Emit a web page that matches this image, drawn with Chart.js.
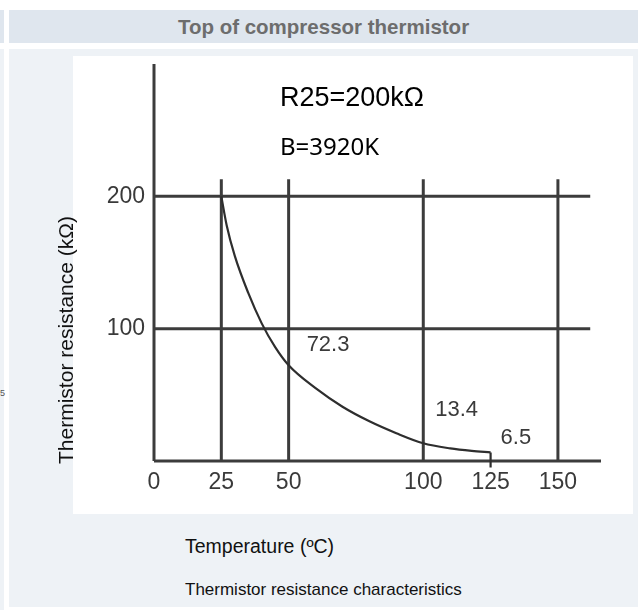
<!DOCTYPE html>
<html>
<head>
<meta charset="utf-8">
<script src="https://cdn.jsdelivr.net/npm/chart.js@4"></script>
<style>
  html, body { margin: 0; padding: 0; background: #fff; }
  body { width: 638px; height: 610px; position: relative; overflow: hidden; font-family: "Liberation Sans", Arial, sans-serif; }
  .stub-head { position: absolute; left: 0; top: 10px; width: 4px; height: 33px; background: #dfe6ee; }
  .head { position: absolute; left: 9px; top: 10px; width: 629px; height: 33px; background: #dfe6ee;
          color: #6d6d6d; font-weight: bold; font-size: 20.5px; text-align: center; line-height: 33px; }
  .stub-body { position: absolute; left: 0; top: 49px; width: 4px; height: 561px; background: #eef2f6; }
  .cell { position: absolute; left: 9px; top: 49px; width: 629px; height: 558px; background: #eef2f6; }
  .box { position: absolute; left: 73px; top: 56px; width: 560px; height: 458px; background: #fff; }
  .ytitle { position: absolute; left: -84px; top: 327px; width: 300px; height: 26px; line-height: 26px;
            text-align: center; transform: rotate(-90deg); font-size: 21px; color: #111; }
  .xtitle { position: absolute; left: 185px; top: 535px; font-size: 19.5px; color: #111; }
  .caption { position: absolute; left: 185px; top: 580px; font-size: 17px; color: #111; }
  .cut { position: absolute; left: 0; top: 388px; font-size: 9px; color: #555; }
  #chart { position: absolute; left: 73px; top: 56px; }
</style>
</head>
<body>
<div class="stub-head"></div>
<div class="head">Top of compressor thermistor</div>
<div class="stub-body"></div>
<div class="cell"></div>
<div class="cut">5</div>
<div class="box"></div>
<canvas id="chart" width="560" height="458"></canvas>
<div class="ytitle">Thermistor resistance (kΩ)</div>
<div class="xtitle">Temperature (ºC)</div>
<div class="caption">Thermistor resistance characteristics</div>

<script>
// curve: temperature (C) vs resistance (kOhm)
const temps = [25, 27, 30, 35, 40, 45, 50, 60, 70, 80, 90, 100, 110, 118, 125];
const resistance = [200, 178, 155, 127, 104, 86, 72.3, 55, 41, 30, 21, 13.4, 9.5, 7.6, 6.5];

// short drop at the end of the curve
const dropTemps = [125, 125];
const dropRes = [6.5, -5];

// axis ticks
const xTicks = [0, 25, 50, 100, 125, 150];
const yTicks = [100, 200];
const gridTemps = [25, 50, 100, 150];

// values written next to the curve
const noteTemps = [50, 100, 125];
const noteValues = [72.3, 13.4, 6.5];

const FONT = '"Liberation Sans", Arial, sans-serif';
const INK = '#3a3a3a';

// grid + axes drawn from the scales, so lines can stop short
const gridPlugin = {
  id: 'grid',
  beforeDatasetsDraw(chart) {
    const {ctx, scales: {x, y}} = chart;
    const line = (x1, y1, x2, y2) => { ctx.beginPath(); ctx.moveTo(x1, y1); ctx.lineTo(x2, y2); ctx.stroke(); };
    ctx.save();
    ctx.strokeStyle = '#3c3c3c';
    ctx.lineWidth = 3;
    yTicks.forEach(v => line(x.getPixelForValue(0), y.getPixelForValue(v), x.getPixelForValue(162), y.getPixelForValue(v)));
    gridTemps.forEach(t => line(x.getPixelForValue(t), y.getPixelForValue(0), x.getPixelForValue(t), y.getPixelForValue(213)));
    // axes
    line(x.left, y.getPixelForValue(0), x.right, y.getPixelForValue(0));
    line(x.getPixelForValue(0), y.getPixelForValue(0), x.getPixelForValue(0), y.top);
    ctx.restore();
  }
};

const notePlugin = {
  id: 'notes',
  afterDatasetsDraw(chart) {
    const {ctx, chartArea, scales: {x, y}} = chart;
    ctx.save();
    ctx.fillStyle = '#000';
    ctx.textBaseline = 'middle';
    ctx.font = '27px ' + FONT;
    ctx.fillText('R25=200kΩ', chartArea.left + 126, chartArea.top + 35);
    ctx.font = '24px "Noto Sans", sans-serif';
    ctx.fillText('B=3920K', chartArea.left + 126, chartArea.top + 84);

    ctx.fillStyle = INK;
    ctx.font = '22px ' + FONT;
    const offs = [[18, -20], [12, -33], [10, -14]];
    noteTemps.forEach((t, i) => {
      ctx.fillText(String(noteValues[i]), x.getPixelForValue(t) + offs[i][0], y.getPixelForValue(noteValues[i]) + offs[i][1]);
    });
    ctx.restore();
  }
};

const tickStyle = { font: { family: FONT, size: 23 }, color: INK, maxRotation: 0, autoSkip: false };

const noPad = s => { s.paddingTop = 0; s.paddingBottom = 0; s.paddingLeft = 0; s.paddingRight = 0; };

new Chart(document.getElementById('chart'), {
  type: 'line',
  data: {
    datasets: [{
      data: temps.map((t, i) => ({ x: t, y: resistance[i] })),
      borderColor: '#2e2e2e',
      borderWidth: 2.2,
      pointRadius: 0,
      cubicInterpolationMode: 'monotone',
      fill: false
    }, {
      data: dropTemps.map((t, i) => ({ x: t, y: dropRes[i] })),
      borderColor: '#2e2e2e',
      borderWidth: 2.2,
      pointRadius: 0,
      clip: false
    }]
  },
  options: {
    responsive: false,
    animation: false,
    layout: { autoPadding: false, padding: { left: 0, right: 32, top: 8, bottom: 0 } },
    plugins: { legend: { display: false }, tooltip: { enabled: false } },
    scales: {
      x: {
        type: 'linear', min: 0, max: 166,
        afterBuildTicks: s => { s.ticks = xTicks.map(v => ({ value: v })); },
        afterFit: s => { s.height = 53; noPad(s); },
        grid: { display: false, drawTicks: false },
        border: { display: false },
        ticks: { ...tickStyle, padding: 8 }
      },
      y: {
        min: 0, max: 300,
        afterBuildTicks: s => { s.ticks = yTicks.map(v => ({ value: v })); },
        afterFit: s => { s.width = 81; noPad(s); },
        grid: { display: false, drawTicks: false },
        border: { display: false },
        ticks: { ...tickStyle, padding: 9 }
      }
    }
  },
  plugins: [gridPlugin, notePlugin]
});
</script>
</body>
</html>
